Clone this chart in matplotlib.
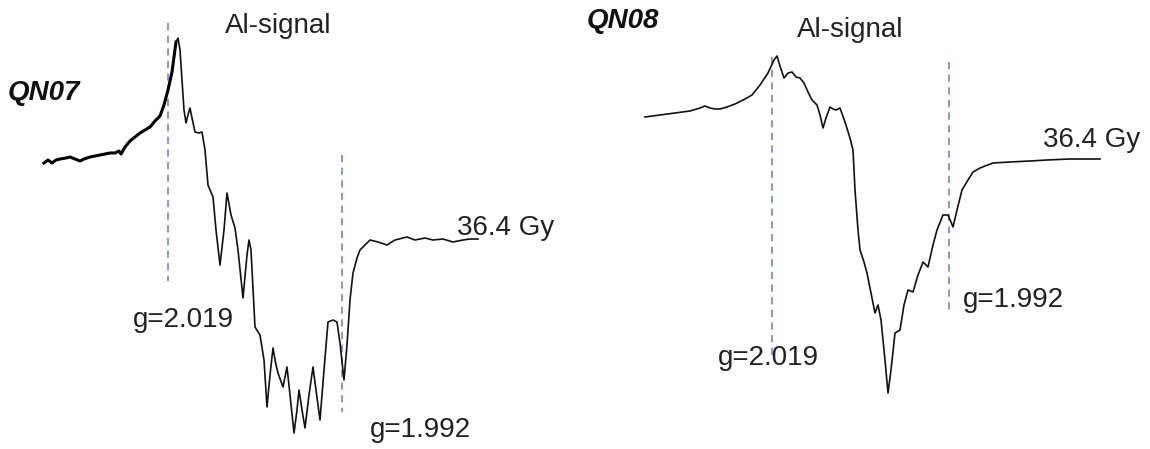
import matplotlib.pyplot as plt

plt.rcParams['font.family'] = ['Liberation Sans', 'DejaVu Sans']

# ESR spectra (arbitrary field / intensity units, y down)
field_07 = [44, 48, 52, 56, 60, 66, 70, 75, 80, 84, 90, 95, 100, 105, 110, 115, 119, 121, 125, 130,
            135, 140, 145, 150, 155, 160, 164, 168, 172, 176, 178, 180, 182, 184, 186, 188, 190, 192,
            195, 199, 202, 205, 208, 213, 216, 220, 224, 227, 231, 235, 238, 243, 247, 249, 251, 255,
            260, 264, 267, 270, 273, 276, 278, 283, 287, 290, 294, 297, 299, 302, 305, 309, 313, 316,
            320, 324, 328, 333, 337, 340, 344, 347, 350, 353, 357, 360, 365, 370, 378, 387, 395, 407,
            415, 425, 433, 443, 453, 463, 470, 478]
sig_07 = [163, 160, 163, 160, 159, 158, 157, 159, 161, 159, 157, 156, 155, 154, 153, 153, 151, 154, 147, 141,
          137, 133, 130, 127, 121, 116, 105, 90, 72, 42, 38, 50, 80, 110, 123, 115, 108, 118,
          132, 133, 132, 150, 185, 197, 230, 265, 230, 193, 215, 228, 250, 298, 255, 240, 250, 327,
          335, 360, 407, 375, 348, 365, 373, 387, 367, 395, 433, 410, 390, 410, 428, 395, 367, 390,
          420, 370, 322, 320, 322, 343, 380, 345, 300, 273, 258, 250, 245, 240, 242, 245, 240, 237,
          240, 238, 240, 239, 242, 240, 239, 239]

field_08 = [645, 660, 675, 690, 700, 705, 710, 715, 720, 727, 735, 745, 752, 760, 768, 774, 777, 780, 784,
            788, 792, 796, 800, 804, 808, 812, 817, 820, 823, 826, 830, 833, 836, 840, 845, 850, 853, 855,
            858, 860, 864, 867, 871, 875, 878, 881, 885, 888, 891, 895, 900, 904, 908, 913, 918, 923, 928,
            933, 937, 943, 948, 951, 953, 957, 962, 968, 973, 980, 993, 1010, 1030, 1047, 1070, 1100]
sig_08 = [117, 115, 113, 111, 108, 106, 108, 109, 109, 107, 104, 99, 95, 85, 73, 60, 56, 66, 78,
          73, 72, 77, 78, 83, 92, 100, 105, 115, 128, 118, 107, 109, 110, 108, 122, 138, 150, 190,
          230, 250, 262, 273, 293, 313, 305, 320, 360, 393, 370, 333, 330, 305, 290, 292, 275, 262, 267,
          245, 230, 215, 215, 222, 227, 210, 190, 180, 172, 168, 163, 162, 161, 160, 159, 159]

# g-marker lines: position, top, bottom
g_07 = [(168, 23, 281), (342, 155, 412)]
g_08 = [(772, 57, 358), (949, 62, 310)]

fig = plt.figure(figsize=(11.5, 4.49), dpi=100)
ax = fig.add_axes([0, 0, 1, 1])
ax.set_xlim(0, 1150)
ax.set_ylim(449, 0)
ax.axis('off')

dash_col = '#7c90d2'
for x, y0, y1 in g_07 + g_08:
    ax.plot([x, x], [y0, y1], color=dash_col, lw=1.3, dashes=(4, 3))

n = field_07.index(176)
ax.plot(field_07[:n + 1], sig_07[:n + 1], color='black', lw=2.2)
ax.plot(field_07[n:], sig_07[n:], color='#111111', lw=1.2)
ax.plot(field_08, sig_08, color='#111111', lw=1.2)

fs = 20
ax.text(278, 33, 'Al-signal', fontsize=fs, ha='center', va='baseline', color='#222222')
ax.text(850, 37, 'Al-signal', fontsize=fs, ha='center', va='baseline', color='#222222')
ax.text(8, 100, 'QN07', fontsize=fs, fontweight='bold', fontstyle='italic', va='baseline', color='#111111')
ax.text(587, 28, 'QN08', fontsize=fs, fontweight='bold', fontstyle='italic', va='baseline', color='#111111')
ax.text(457, 235, '36.4 Gy', fontsize=fs, va='baseline', color='#222222')
ax.text(1043, 147, '36.4 Gy', fontsize=fs, va='baseline', color='#222222')
ax.text(133, 327, 'g=2.019', fontsize=fs, va='baseline', color='#222222')
ax.text(370, 437, 'g=1.992', fontsize=fs, va='baseline', color='#222222')
ax.text(718, 365, 'g=2.019', fontsize=fs, va='baseline', color='#222222')
ax.text(963, 307, 'g=1.992', fontsize=fs, va='baseline', color='#222222')

fig.savefig('out.png', dpi=100)
